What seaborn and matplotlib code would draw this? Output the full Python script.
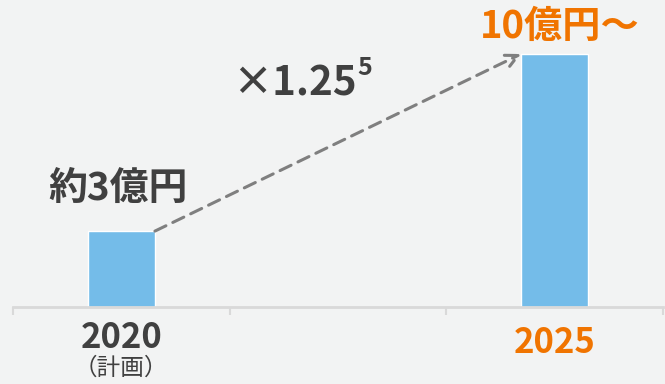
import matplotlib
matplotlib.use("Agg")
import matplotlib.pyplot as plt
import seaborn as sns
import pandas as pd

years = ["2020", "", "2025"]
bar_years = ["2020", "2025"]
values = [3, 10]
value_labels = ["約3億円", "10億円～"]
sub_label = "（計画）"
growth_label = "×1.25"
growth_exp = "5"

BG = "#f2f3f3"
BAR = "#74bce9"
DARK = "#404040"
ORANGE = "#f07400"
AXIS = "#d9d9d9"

sns.set_theme(style="white")
plt.rcParams['font.family'] = ['Noto Sans CJK JP', 'DejaVu Sans']

df = pd.DataFrame({"year": bar_years, "value": values})

fig = plt.figure(figsize=(6.65, 3.84), dpi=100, facecolor=BG)
ax = fig.add_axes([13/665, 1 - 307/384, 650/665, 307/384])
ax.set_facecolor(BG)

sns.barplot(data=df, x="year", y="value", order=years, color=BAR,
            width=0.31, saturation=1, ax=ax)

ax.set_xlim(-0.5, 2.5)
ax.set_ylim(0, 307 / 25.3)
ax.set_xlabel("")
ax.set_ylabel("")
ax.set_yticks([])
ax.set_xticks([-0.5, 0.5, 1.5, 2.5])
ax.set_xticklabels([])
ax.tick_params(axis="x", bottom=True, length=6, width=1.5, color=AXIS, direction="out")
for s in ["top", "left", "right"]:
    ax.spines[s].set_visible(False)
ax.spines["bottom"].set_color(AXIS)
ax.spines["bottom"].set_linewidth(2)

x2020 = years.index("2020")
x2025 = years.index("2025")

# category labels
tr = ax.get_xaxis_transform()
ax.text(x2020, -0.098, "2020", transform=tr, ha="center", va="center",
        fontsize=25, fontweight="bold", color=DARK)
ax.text(x2020, -0.2, sub_label, transform=tr, ha="center", va="center",
        fontsize=17, color=DARK)
ax.text(x2025, -0.117, "2025", transform=tr, ha="center", va="center",
        fontsize=25, fontweight="bold", color=ORANGE)

# value labels
ax.text(-0.015, 4.7, value_labels[0], ha="center", va="center",
        fontsize=28, fontweight="bold", color=DARK)
ax.text(2.024, 11.07, value_labels[1], ha="center", va="center",
        fontsize=27.5, fontweight="bold", color=ORANGE)

# growth label
ax.text(0.8, 8.81, growth_label, ha="center", va="center",
        fontsize=29, fontweight="bold", color=DARK)
ax.text(1.125, 9.45, growth_exp, ha="center", va="center",
        fontsize=18, fontweight="bold", color=DARK)

# dashed arrow
half = 0.155
ax.annotate("", xy=(x2025 - half, values[1]), xytext=(x2020 + half, values[0]),
            arrowprops=dict(arrowstyle="->", color="#7f7f7f", lw=2.2,
                            linestyle=(0, (4, 2.5)), mutation_scale=22,
                            shrinkA=0, shrinkB=0))

fig.savefig("out.png", dpi=100, facecolor=BG)
